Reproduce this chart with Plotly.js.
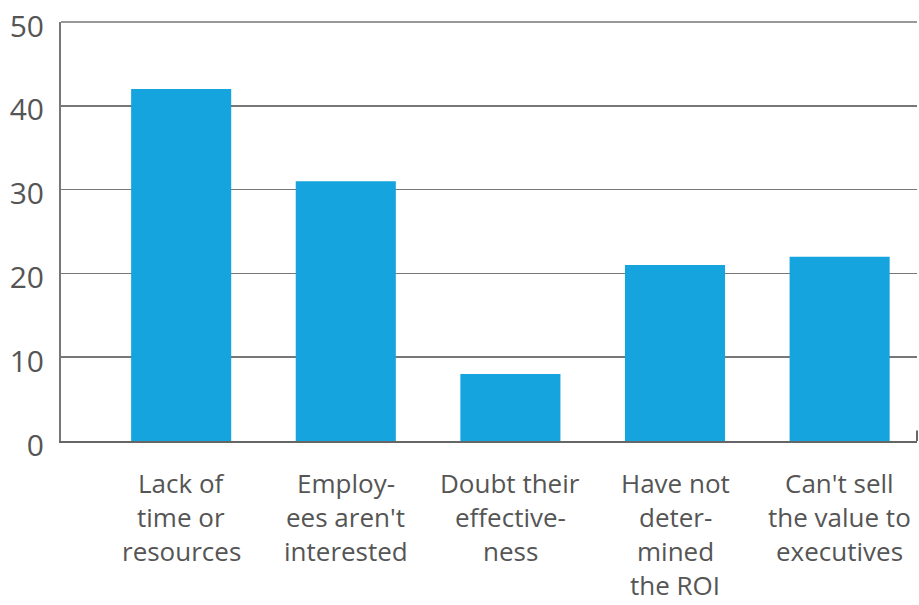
<!DOCTYPE html>
<html>
<head>
<meta charset="utf-8">
<script src="https://cdn.plot.ly/plotly-3.0.1.min.js"></script>
<style>html,body{margin:0;padding:0;background:#fff;}#chart{width:919px;height:605px;}</style>
</head>
<body>
<div id="chart"></div>
<script>
const categories = ["Lack of time or resources", "Employees aren't interested", "Doubt their effectiveness", "Have not determined the ROI", "Can't sell the value to executives"];
const tickLabels = [
  ["Lack of", "time or", "resources"],
  ["Employ-", "ees aren't", "interested"],
  ["Doubt their", "effective-", "ness"],
  ["Have not", "deter-", "mined", "the ROI"],
  ["Can't sell", "the value to", "executives"]
];
const values = [42, 31, 8, 21, 22];
const yTicks = [0, 10, 20, 30, 40, 50];

const idx = categories.map((c, i) => i);

const trace = {
  type: 'bar',
  x: idx,
  y: values,
  width: 0.608,
  marker: {color: '#16a4de'},
  hoverinfo: 'skip'
};

const annotations = [];
tickLabels.forEach((lines, i) => {
  lines.forEach((line, k) => {
    annotations.push({
      x: i, y: 0, xref: 'x', yref: 'y',
      text: line, showarrow: false,
      xanchor: 'center', yanchor: 'middle',
      yshift: -(42 + 34 * k),
      borderpad: 0,
      font: {size: 26, color: '#555', family: 'Open Sans, sans-serif'}
    });
  });
});

const layout = {
  width: 919, height: 605,
  margin: {l: 61, r: 2, t: 22, b: 164},
  paper_bgcolor: '#fff', plot_bgcolor: '#fff',
  showlegend: false,
  font: {family: 'Open Sans, sans-serif', color: '#555'},
  xaxis: {
    range: [-0.73, 4.47],
    tickmode: 'array', tickvals: idx,
    showticklabels: false,
    showgrid: false, zeroline: false,
    showline: true, linecolor: '#666', linewidth: 2,
    ticks: ''
  },
  yaxis: {
    range: [0, 50],
    tickmode: 'array', tickvals: yTicks,
    tickfont: {size: 30, color: '#555'},
    showgrid: true, gridcolor: '#777', gridwidth: 1.5,
    zeroline: false,
    showline: true, linecolor: '#777', linewidth: 2,
    ticks: '', ticklabelstandoff: 9, ticklabelshift: 4,
    ticklabeloverflow: 'allow'
  },
  annotations: annotations,
  shapes: [
    {type: 'line', xref: 'paper', yref: 'paper', x0: 1, x1: 1, y0: 0, y1: 0.025, line: {color: '#666', width: 2}},
    {type: 'line', xref: 'paper', yref: 'paper', x0: 0, x1: 1, y0: 1, y1: 1, line: {color: '#777', width: 1.5}}
  ]
};

Plotly.newPlot('chart', [trace], layout, {displayModeBar: false, staticPlot: true});
</script>
</body>
</html>
